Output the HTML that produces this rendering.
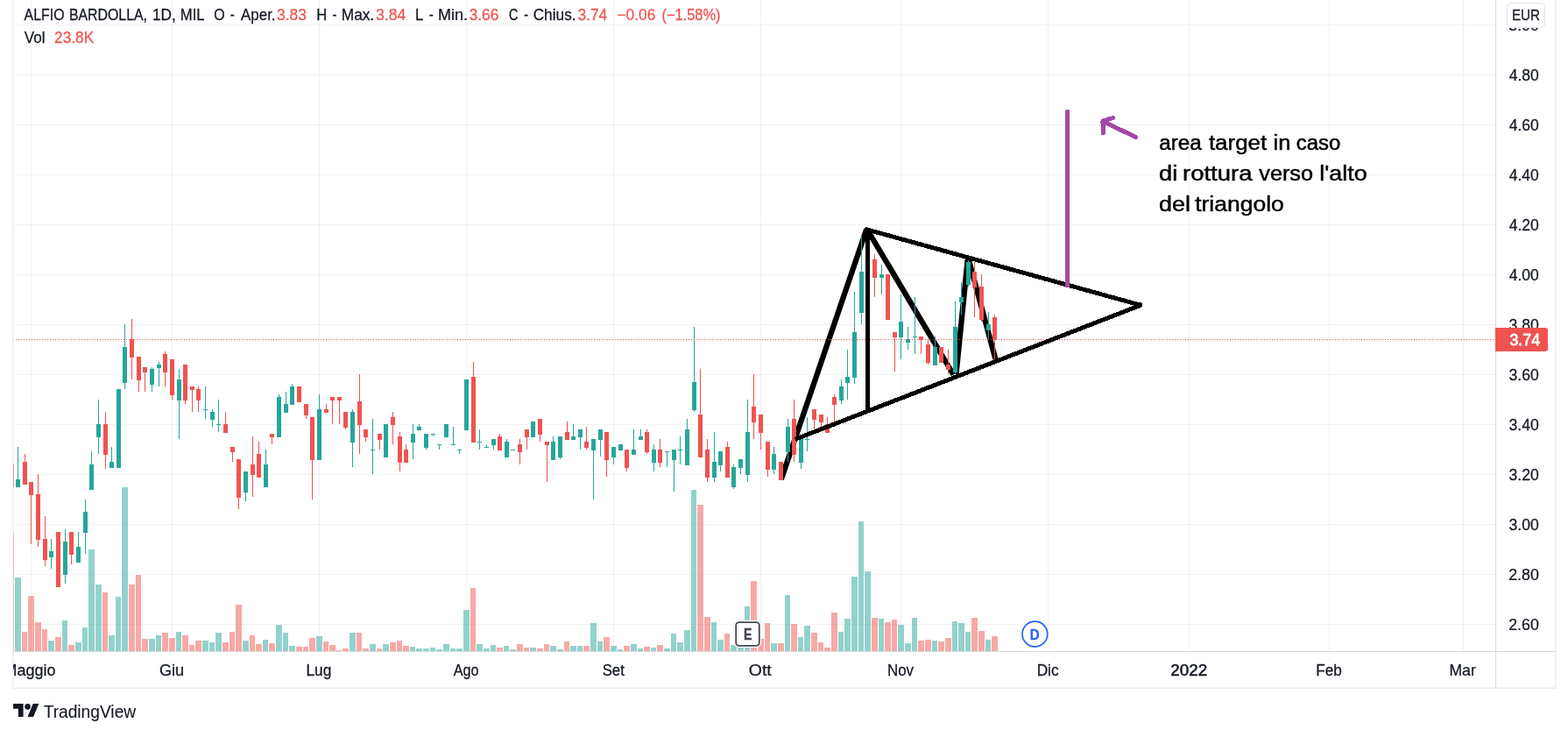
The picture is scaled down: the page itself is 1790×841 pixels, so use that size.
<!DOCTYPE html>
<html lang="it"><head><meta charset="utf-8"><title>ALFIO BARDOLLA, 1D, MIL</title>
<style>html,body{margin:0;padding:0;background:#fff;width:1790px;height:841px;overflow:hidden}svg{display:block;position:absolute;left:0;top:0}text{font-family:"Liberation Sans", sans-serif;white-space:pre}</style></head><body>
<svg width="1790" height="841" viewBox="0 0 1790 841">
<rect width="1790" height="841" fill="#fff"/>
<defs><clipPath id="pane"><rect x="15" y="0" width="1692" height="743"/></clipPath><clipPath id="tclip"><rect x="15" y="744" width="1692" height="41"/></clipPath><clipPath id="pclip"><rect x="1708" y="32" width="67" height="711"/></clipPath></defs>
<g shape-rendering="crispEdges" fill="rgba(30,40,35,0.06)">
<rect x="15" y="28" width="1692" height="1"/>
<rect x="15" y="85" width="1692" height="1"/>
<rect x="15" y="142" width="1692" height="1"/>
<rect x="15" y="199" width="1692" height="1"/>
<rect x="15" y="256" width="1692" height="1"/>
<rect x="15" y="313" width="1692" height="1"/>
<rect x="15" y="370" width="1692" height="1"/>
<rect x="15" y="427" width="1692" height="1"/>
<rect x="15" y="484" width="1692" height="1"/>
<rect x="15" y="541" width="1692" height="1"/>
<rect x="15" y="598" width="1692" height="1"/>
<rect x="15" y="655" width="1692" height="1"/>
<rect x="15" y="712" width="1692" height="1"/>
<rect x="35" y="0" width="1" height="743"/>
<rect x="196" y="0" width="1" height="743"/>
<rect x="364" y="0" width="1" height="743"/>
<rect x="532" y="0" width="1" height="743"/>
<rect x="700" y="0" width="1" height="743"/>
<rect x="868" y="0" width="1" height="743"/>
<rect x="1028" y="0" width="1" height="743"/>
<rect x="1196" y="0" width="1" height="743"/>
<rect x="1357" y="0" width="1" height="743"/>
<rect x="1517" y="0" width="1" height="743"/>
<rect x="1670" y="0" width="1" height="743"/>
</g>
<g clip-path="url(#pane)" shape-rendering="crispEdges">
<rect x="10" y="608" width="6" height="135" fill="#ef5350" fill-opacity=".5"/>
<rect x="17" y="659" width="7" height="84" fill="#26a69a" fill-opacity=".5"/>
<rect x="25" y="721" width="6" height="22" fill="#ef5350" fill-opacity=".5"/>
<rect x="32" y="680" width="7" height="63" fill="#ef5350" fill-opacity=".5"/>
<rect x="40" y="710" width="7" height="33" fill="#ef5350" fill-opacity=".5"/>
<rect x="48" y="718" width="6" height="25" fill="#ef5350" fill-opacity=".5"/>
<rect x="55" y="731" width="7" height="12" fill="#26a69a" fill-opacity=".5"/>
<rect x="63" y="727" width="7" height="16" fill="#ef5350" fill-opacity=".5"/>
<rect x="71" y="708" width="6" height="35" fill="#26a69a" fill-opacity=".5"/>
<rect x="78" y="736" width="7" height="7" fill="#ef5350" fill-opacity=".5"/>
<rect x="86" y="733" width="7" height="10" fill="#26a69a" fill-opacity=".5"/>
<rect x="94" y="716" width="6" height="27" fill="#26a69a" fill-opacity=".5"/>
<rect x="101" y="627" width="7" height="116" fill="#26a69a" fill-opacity=".5"/>
<rect x="109" y="667" width="7" height="76" fill="#26a69a" fill-opacity=".5"/>
<rect x="117" y="676" width="6" height="67" fill="#ef5350" fill-opacity=".5"/>
<rect x="124" y="725" width="7" height="18" fill="#26a69a" fill-opacity=".5"/>
<rect x="132" y="681" width="6" height="62" fill="#26a69a" fill-opacity=".5"/>
<rect x="139" y="556" width="7" height="187" fill="#26a69a" fill-opacity=".5"/>
<rect x="147" y="667" width="7" height="76" fill="#ef5350" fill-opacity=".5"/>
<rect x="155" y="656" width="6" height="87" fill="#ef5350" fill-opacity=".5"/>
<rect x="162" y="729" width="7" height="14" fill="#ef5350" fill-opacity=".5"/>
<rect x="170" y="729" width="7" height="14" fill="#26a69a" fill-opacity=".5"/>
<rect x="178" y="725" width="6" height="18" fill="#26a69a" fill-opacity=".5"/>
<rect x="185" y="722" width="7" height="21" fill="#ef5350" fill-opacity=".5"/>
<rect x="193" y="728" width="7" height="15" fill="#ef5350" fill-opacity=".5"/>
<rect x="201" y="721" width="6" height="22" fill="#26a69a" fill-opacity=".5"/>
<rect x="208" y="725" width="7" height="18" fill="#ef5350" fill-opacity=".5"/>
<rect x="216" y="736" width="6" height="7" fill="#ef5350" fill-opacity=".5"/>
<rect x="223" y="731" width="7" height="12" fill="#ef5350" fill-opacity=".5"/>
<rect x="231" y="731" width="7" height="12" fill="#26a69a" fill-opacity=".5"/>
<rect x="239" y="733" width="6" height="10" fill="#26a69a" fill-opacity=".5"/>
<rect x="246" y="722" width="7" height="21" fill="#26a69a" fill-opacity=".5"/>
<rect x="254" y="733" width="7" height="10" fill="#ef5350" fill-opacity=".5"/>
<rect x="262" y="721" width="6" height="22" fill="#ef5350" fill-opacity=".5"/>
<rect x="269" y="690" width="7" height="53" fill="#ef5350" fill-opacity=".5"/>
<rect x="277" y="731" width="7" height="12" fill="#26a69a" fill-opacity=".5"/>
<rect x="285" y="725" width="6" height="18" fill="#ef5350" fill-opacity=".5"/>
<rect x="292" y="735" width="7" height="8" fill="#ef5350" fill-opacity=".5"/>
<rect x="300" y="730" width="6" height="13" fill="#26a69a" fill-opacity=".5"/>
<rect x="307" y="734" width="7" height="9" fill="#ef5350" fill-opacity=".5"/>
<rect x="315" y="713" width="7" height="30" fill="#26a69a" fill-opacity=".5"/>
<rect x="323" y="722" width="6" height="21" fill="#26a69a" fill-opacity=".5"/>
<rect x="330" y="737" width="7" height="6" fill="#26a69a" fill-opacity=".5"/>
<rect x="338" y="738" width="7" height="5" fill="#ef5350" fill-opacity=".5"/>
<rect x="346" y="738" width="6" height="5" fill="#ef5350" fill-opacity=".5"/>
<rect x="353" y="728" width="7" height="15" fill="#ef5350" fill-opacity=".5"/>
<rect x="361" y="726" width="7" height="17" fill="#26a69a" fill-opacity=".5"/>
<rect x="369" y="732" width="6" height="11" fill="#ef5350" fill-opacity=".5"/>
<rect x="376" y="736" width="7" height="7" fill="#ef5350" fill-opacity=".5"/>
<rect x="384" y="742" width="6" height="1" fill="#ef5350" fill-opacity=".5"/>
<rect x="391" y="740" width="7" height="3" fill="#ef5350" fill-opacity=".5"/>
<rect x="399" y="722" width="7" height="21" fill="#26a69a" fill-opacity=".5"/>
<rect x="407" y="722" width="6" height="21" fill="#ef5350" fill-opacity=".5"/>
<rect x="414" y="740" width="7" height="3" fill="#ef5350" fill-opacity=".5"/>
<rect x="422" y="735" width="7" height="8" fill="#26a69a" fill-opacity=".5"/>
<rect x="430" y="740" width="6" height="3" fill="#ef5350" fill-opacity=".5"/>
<rect x="437" y="735" width="7" height="8" fill="#26a69a" fill-opacity=".5"/>
<rect x="445" y="733" width="7" height="10" fill="#ef5350" fill-opacity=".5"/>
<rect x="453" y="731" width="6" height="12" fill="#ef5350" fill-opacity=".5"/>
<rect x="460" y="737" width="7" height="6" fill="#ef5350" fill-opacity=".5"/>
<rect x="468" y="738" width="6" height="5" fill="#26a69a" fill-opacity=".5"/>
<rect x="475" y="740" width="7" height="3" fill="#26a69a" fill-opacity=".5"/>
<rect x="483" y="740" width="7" height="3" fill="#26a69a" fill-opacity=".5"/>
<rect x="491" y="739" width="6" height="4" fill="#26a69a" fill-opacity=".5"/>
<rect x="498" y="741" width="7" height="2" fill="#26a69a" fill-opacity=".5"/>
<rect x="506" y="735" width="7" height="8" fill="#26a69a" fill-opacity=".5"/>
<rect x="514" y="740" width="6" height="3" fill="#26a69a" fill-opacity=".5"/>
<rect x="521" y="740" width="7" height="3" fill="#26a69a" fill-opacity=".5"/>
<rect x="529" y="696" width="7" height="47" fill="#26a69a" fill-opacity=".5"/>
<rect x="537" y="671" width="6" height="72" fill="#ef5350" fill-opacity=".5"/>
<rect x="544" y="735" width="7" height="8" fill="#26a69a" fill-opacity=".5"/>
<rect x="552" y="740" width="7" height="3" fill="#26a69a" fill-opacity=".5"/>
<rect x="560" y="736" width="6" height="7" fill="#26a69a" fill-opacity=".5"/>
<rect x="567" y="739" width="7" height="4" fill="#ef5350" fill-opacity=".5"/>
<rect x="575" y="737" width="6" height="6" fill="#26a69a" fill-opacity=".5"/>
<rect x="582" y="741" width="7" height="2" fill="#26a69a" fill-opacity=".5"/>
<rect x="590" y="735" width="7" height="8" fill="#ef5350" fill-opacity=".5"/>
<rect x="598" y="739" width="6" height="4" fill="#ef5350" fill-opacity=".5"/>
<rect x="605" y="739" width="7" height="4" fill="#26a69a" fill-opacity=".5"/>
<rect x="613" y="740" width="7" height="3" fill="#ef5350" fill-opacity=".5"/>
<rect x="621" y="735" width="6" height="8" fill="#ef5350" fill-opacity=".5"/>
<rect x="628" y="737" width="7" height="6" fill="#26a69a" fill-opacity=".5"/>
<rect x="636" y="741" width="7" height="2" fill="#26a69a" fill-opacity=".5"/>
<rect x="644" y="732" width="6" height="11" fill="#ef5350" fill-opacity=".5"/>
<rect x="651" y="737" width="7" height="6" fill="#26a69a" fill-opacity=".5"/>
<rect x="659" y="737" width="6" height="6" fill="#26a69a" fill-opacity=".5"/>
<rect x="666" y="737" width="7" height="6" fill="#ef5350" fill-opacity=".5"/>
<rect x="674" y="711" width="7" height="32" fill="#26a69a" fill-opacity=".5"/>
<rect x="682" y="732" width="6" height="11" fill="#26a69a" fill-opacity=".5"/>
<rect x="689" y="727" width="7" height="16" fill="#ef5350" fill-opacity=".5"/>
<rect x="697" y="737" width="7" height="6" fill="#26a69a" fill-opacity=".5"/>
<rect x="705" y="741" width="6" height="2" fill="#26a69a" fill-opacity=".5"/>
<rect x="712" y="737" width="7" height="6" fill="#ef5350" fill-opacity=".5"/>
<rect x="720" y="735" width="7" height="8" fill="#26a69a" fill-opacity=".5"/>
<rect x="728" y="740" width="6" height="3" fill="#26a69a" fill-opacity=".5"/>
<rect x="735" y="738" width="7" height="5" fill="#ef5350" fill-opacity=".5"/>
<rect x="743" y="739" width="6" height="4" fill="#26a69a" fill-opacity=".5"/>
<rect x="750" y="736" width="7" height="7" fill="#ef5350" fill-opacity=".5"/>
<rect x="758" y="740" width="7" height="3" fill="#26a69a" fill-opacity=".5"/>
<rect x="766" y="723" width="6" height="20" fill="#26a69a" fill-opacity=".5"/>
<rect x="773" y="733" width="7" height="10" fill="#26a69a" fill-opacity=".5"/>
<rect x="781" y="719" width="7" height="24" fill="#26a69a" fill-opacity=".5"/>
<rect x="789" y="559" width="6" height="184" fill="#26a69a" fill-opacity=".5"/>
<rect x="796" y="576" width="7" height="167" fill="#ef5350" fill-opacity=".5"/>
<rect x="804" y="704" width="7" height="39" fill="#ef5350" fill-opacity=".5"/>
<rect x="812" y="710" width="6" height="33" fill="#26a69a" fill-opacity=".5"/>
<rect x="819" y="730" width="7" height="13" fill="#26a69a" fill-opacity=".5"/>
<rect x="827" y="723" width="6" height="20" fill="#ef5350" fill-opacity=".5"/>
<rect x="834" y="736" width="7" height="7" fill="#26a69a" fill-opacity=".5"/>
<rect x="842" y="738" width="7" height="5" fill="#26a69a" fill-opacity=".5"/>
<rect x="850" y="692" width="6" height="51" fill="#26a69a" fill-opacity=".5"/>
<rect x="857" y="663" width="7" height="80" fill="#ef5350" fill-opacity=".5"/>
<rect x="865" y="729" width="7" height="14" fill="#ef5350" fill-opacity=".5"/>
<rect x="873" y="711" width="6" height="32" fill="#ef5350" fill-opacity=".5"/>
<rect x="880" y="734" width="7" height="9" fill="#26a69a" fill-opacity=".5"/>
<rect x="888" y="734" width="7" height="9" fill="#ef5350" fill-opacity=".5"/>
<rect x="896" y="679" width="6" height="64" fill="#26a69a" fill-opacity=".5"/>
<rect x="903" y="712" width="7" height="31" fill="#ef5350" fill-opacity=".5"/>
<rect x="911" y="727" width="6" height="16" fill="#26a69a" fill-opacity=".5"/>
<rect x="918" y="714" width="7" height="29" fill="#26a69a" fill-opacity=".5"/>
<rect x="926" y="722" width="7" height="21" fill="#ef5350" fill-opacity=".5"/>
<rect x="934" y="733" width="6" height="10" fill="#ef5350" fill-opacity=".5"/>
<rect x="941" y="739" width="7" height="4" fill="#ef5350" fill-opacity=".5"/>
<rect x="949" y="699" width="7" height="44" fill="#ef5350" fill-opacity=".5"/>
<rect x="957" y="721" width="6" height="22" fill="#26a69a" fill-opacity=".5"/>
<rect x="964" y="706" width="7" height="37" fill="#26a69a" fill-opacity=".5"/>
<rect x="972" y="658" width="7" height="85" fill="#26a69a" fill-opacity=".5"/>
<rect x="980" y="595" width="6" height="148" fill="#26a69a" fill-opacity=".5"/>
<rect x="987" y="652" width="7" height="91" fill="#26a69a" fill-opacity=".5"/>
<rect x="995" y="705" width="7" height="38" fill="#ef5350" fill-opacity=".5"/>
<rect x="1003" y="706" width="6" height="37" fill="#26a69a" fill-opacity=".5"/>
<rect x="1010" y="710" width="7" height="33" fill="#ef5350" fill-opacity=".5"/>
<rect x="1018" y="707" width="6" height="36" fill="#ef5350" fill-opacity=".5"/>
<rect x="1025" y="713" width="7" height="30" fill="#26a69a" fill-opacity=".5"/>
<rect x="1033" y="734" width="7" height="9" fill="#26a69a" fill-opacity=".5"/>
<rect x="1041" y="705" width="6" height="38" fill="#26a69a" fill-opacity=".5"/>
<rect x="1048" y="731" width="7" height="12" fill="#ef5350" fill-opacity=".5"/>
<rect x="1056" y="730" width="7" height="13" fill="#ef5350" fill-opacity=".5"/>
<rect x="1064" y="731" width="6" height="12" fill="#26a69a" fill-opacity=".5"/>
<rect x="1071" y="732" width="7" height="11" fill="#ef5350" fill-opacity=".5"/>
<rect x="1079" y="728" width="7" height="15" fill="#ef5350" fill-opacity=".5"/>
<rect x="1087" y="709" width="6" height="34" fill="#26a69a" fill-opacity=".5"/>
<rect x="1094" y="711" width="7" height="32" fill="#26a69a" fill-opacity=".5"/>
<rect x="1102" y="721" width="6" height="22" fill="#26a69a" fill-opacity=".5"/>
<rect x="1109" y="705" width="7" height="38" fill="#ef5350" fill-opacity=".5"/>
<rect x="1117" y="720" width="7" height="23" fill="#ef5350" fill-opacity=".5"/>
<rect x="1125" y="730" width="6" height="13" fill="#26a69a" fill-opacity=".5"/>
<rect x="1132" y="726" width="7" height="17" fill="#ef5350" fill-opacity=".5"/>
</g>
<g stroke="#000" stroke-width="6.3" stroke-linecap="butt" fill="none">
<line x1="891.8" y1="547.0" x2="989.1" y2="262.0"/>
<line x1="990.3" y1="262.5" x2="1088.4" y2="427.5"/>
<line x1="1091.5" y1="427.0" x2="1104.8" y2="295.0"/>
<line x1="1105.5" y1="295.0" x2="1136.5" y2="410.0"/>
</g>
<g clip-path="url(#pane)" shape-rendering="crispEdges">
<rect x="13" y="530" width="1" height="26" fill="#ef5350"/>
<rect x="11" y="530" width="5" height="26" fill="#ef5350"/>
<rect x="20" y="510" width="1" height="46" fill="#26a69a"/>
<rect x="18" y="547" width="5" height="9" fill="#26a69a"/>
<rect x="28" y="518" width="1" height="35" fill="#ef5350"/>
<rect x="26" y="527" width="5" height="26" fill="#ef5350"/>
<rect x="35" y="550" width="1" height="71" fill="#ef5350"/>
<rect x="33" y="550" width="5" height="15" fill="#ef5350"/>
<rect x="43" y="541" width="1" height="83" fill="#ef5350"/>
<rect x="41" y="564" width="5" height="52" fill="#ef5350"/>
<rect x="51" y="589" width="1" height="57" fill="#ef5350"/>
<rect x="49" y="615" width="5" height="24" fill="#ef5350"/>
<rect x="58" y="615" width="1" height="34" fill="#26a69a"/>
<rect x="56" y="629" width="5" height="7" fill="#26a69a"/>
<rect x="66" y="607" width="1" height="63" fill="#ef5350"/>
<rect x="64" y="607" width="5" height="63" fill="#ef5350"/>
<rect x="74" y="604" width="1" height="62" fill="#26a69a"/>
<rect x="72" y="618" width="5" height="38" fill="#26a69a"/>
<rect x="81" y="607" width="1" height="37" fill="#ef5350"/>
<rect x="79" y="607" width="5" height="26" fill="#ef5350"/>
<rect x="89" y="607" width="1" height="35" fill="#26a69a"/>
<rect x="87" y="624" width="5" height="18" fill="#26a69a"/>
<rect x="97" y="570" width="1" height="62" fill="#26a69a"/>
<rect x="95" y="584" width="5" height="24" fill="#26a69a"/>
<rect x="104" y="515" width="1" height="44" fill="#26a69a"/>
<rect x="102" y="530" width="5" height="29" fill="#26a69a"/>
<rect x="112" y="456" width="1" height="62" fill="#26a69a"/>
<rect x="110" y="484" width="5" height="15" fill="#26a69a"/>
<rect x="120" y="470" width="1" height="65" fill="#ef5350"/>
<rect x="118" y="484" width="5" height="35" fill="#ef5350"/>
<rect x="127" y="510" width="1" height="24" fill="#26a69a"/>
<rect x="125" y="527" width="5" height="7" fill="#26a69a"/>
<rect x="135" y="444" width="1" height="90" fill="#26a69a"/>
<rect x="133" y="444" width="5" height="90" fill="#26a69a"/>
<rect x="142" y="370" width="1" height="74" fill="#26a69a"/>
<rect x="140" y="396" width="5" height="41" fill="#26a69a"/>
<rect x="150" y="364" width="1" height="69" fill="#ef5350"/>
<rect x="148" y="387" width="5" height="21" fill="#ef5350"/>
<rect x="158" y="407" width="1" height="40" fill="#ef5350"/>
<rect x="156" y="407" width="5" height="27" fill="#ef5350"/>
<rect x="165" y="419" width="1" height="28" fill="#ef5350"/>
<rect x="163" y="419" width="5" height="6" fill="#ef5350"/>
<rect x="173" y="419" width="1" height="28" fill="#26a69a"/>
<rect x="171" y="421" width="5" height="18" fill="#26a69a"/>
<rect x="181" y="413" width="1" height="28" fill="#26a69a"/>
<rect x="179" y="416" width="5" height="4" fill="#26a69a"/>
<rect x="188" y="401" width="1" height="40" fill="#ef5350"/>
<rect x="186" y="404" width="5" height="21" fill="#ef5350"/>
<rect x="196" y="410" width="1" height="46" fill="#ef5350"/>
<rect x="194" y="410" width="5" height="41" fill="#ef5350"/>
<rect x="204" y="421" width="1" height="80" fill="#26a69a"/>
<rect x="202" y="433" width="5" height="24" fill="#26a69a"/>
<rect x="211" y="416" width="1" height="45" fill="#ef5350"/>
<rect x="209" y="416" width="5" height="41" fill="#ef5350"/>
<rect x="219" y="441" width="1" height="29" fill="#ef5350"/>
<rect x="217" y="441" width="5" height="4" fill="#ef5350"/>
<rect x="226" y="441" width="1" height="29" fill="#ef5350"/>
<rect x="224" y="444" width="5" height="13" fill="#ef5350"/>
<rect x="234" y="441" width="1" height="37" fill="#26a69a"/>
<rect x="232" y="467" width="5" height="1" fill="#26a69a"/>
<rect x="242" y="467" width="1" height="20" fill="#26a69a"/>
<rect x="240" y="470" width="5" height="9" fill="#26a69a"/>
<rect x="249" y="456" width="1" height="37" fill="#26a69a"/>
<rect x="247" y="484" width="5" height="1" fill="#26a69a"/>
<rect x="257" y="470" width="1" height="24" fill="#ef5350"/>
<rect x="255" y="484" width="5" height="10" fill="#ef5350"/>
<rect x="265" y="510" width="1" height="17" fill="#ef5350"/>
<rect x="263" y="510" width="5" height="6" fill="#ef5350"/>
<rect x="272" y="524" width="1" height="57" fill="#ef5350"/>
<rect x="270" y="524" width="5" height="44" fill="#ef5350"/>
<rect x="280" y="538" width="1" height="34" fill="#26a69a"/>
<rect x="278" y="538" width="5" height="24" fill="#26a69a"/>
<rect x="288" y="498" width="1" height="69" fill="#ef5350"/>
<rect x="286" y="530" width="5" height="12" fill="#ef5350"/>
<rect x="295" y="504" width="1" height="41" fill="#ef5350"/>
<rect x="293" y="518" width="5" height="27" fill="#ef5350"/>
<rect x="303" y="513" width="1" height="43" fill="#26a69a"/>
<rect x="301" y="530" width="5" height="26" fill="#26a69a"/>
<rect x="310" y="495" width="1" height="12" fill="#ef5350"/>
<rect x="308" y="495" width="5" height="4" fill="#ef5350"/>
<rect x="318" y="450" width="1" height="49" fill="#26a69a"/>
<rect x="316" y="453" width="5" height="46" fill="#26a69a"/>
<rect x="326" y="447" width="1" height="24" fill="#26a69a"/>
<rect x="324" y="461" width="5" height="10" fill="#26a69a"/>
<rect x="333" y="438" width="1" height="24" fill="#26a69a"/>
<rect x="331" y="441" width="5" height="21" fill="#26a69a"/>
<rect x="341" y="441" width="1" height="18" fill="#ef5350"/>
<rect x="339" y="441" width="5" height="18" fill="#ef5350"/>
<rect x="349" y="461" width="1" height="17" fill="#ef5350"/>
<rect x="347" y="461" width="5" height="13" fill="#ef5350"/>
<rect x="356" y="476" width="1" height="94" fill="#ef5350"/>
<rect x="354" y="476" width="5" height="49" fill="#ef5350"/>
<rect x="364" y="450" width="1" height="75" fill="#26a69a"/>
<rect x="362" y="467" width="5" height="58" fill="#26a69a"/>
<rect x="372" y="461" width="1" height="10" fill="#ef5350"/>
<rect x="370" y="467" width="5" height="4" fill="#ef5350"/>
<rect x="379" y="453" width="1" height="31" fill="#ef5350"/>
<rect x="377" y="453" width="5" height="4" fill="#ef5350"/>
<rect x="387" y="453" width="1" height="31" fill="#ef5350"/>
<rect x="385" y="453" width="5" height="4" fill="#ef5350"/>
<rect x="394" y="470" width="1" height="20" fill="#ef5350"/>
<rect x="392" y="470" width="5" height="18" fill="#ef5350"/>
<rect x="402" y="467" width="1" height="66" fill="#26a69a"/>
<rect x="400" y="470" width="5" height="35" fill="#26a69a"/>
<rect x="410" y="427" width="1" height="91" fill="#ef5350"/>
<rect x="408" y="458" width="5" height="27" fill="#ef5350"/>
<rect x="417" y="490" width="1" height="14" fill="#ef5350"/>
<rect x="415" y="490" width="5" height="9" fill="#ef5350"/>
<rect x="425" y="478" width="1" height="63" fill="#26a69a"/>
<rect x="423" y="513" width="5" height="1" fill="#26a69a"/>
<rect x="433" y="495" width="1" height="18" fill="#ef5350"/>
<rect x="431" y="495" width="5" height="7" fill="#ef5350"/>
<rect x="440" y="484" width="1" height="38" fill="#26a69a"/>
<rect x="438" y="484" width="5" height="38" fill="#26a69a"/>
<rect x="448" y="470" width="1" height="37" fill="#ef5350"/>
<rect x="446" y="476" width="5" height="9" fill="#ef5350"/>
<rect x="456" y="493" width="1" height="45" fill="#ef5350"/>
<rect x="454" y="498" width="5" height="30" fill="#ef5350"/>
<rect x="463" y="507" width="1" height="21" fill="#ef5350"/>
<rect x="461" y="513" width="5" height="15" fill="#ef5350"/>
<rect x="471" y="484" width="1" height="40" fill="#26a69a"/>
<rect x="469" y="495" width="5" height="10" fill="#26a69a"/>
<rect x="478" y="484" width="1" height="7" fill="#26a69a"/>
<rect x="476" y="487" width="5" height="4" fill="#26a69a"/>
<rect x="486" y="495" width="1" height="18" fill="#26a69a"/>
<rect x="484" y="495" width="5" height="16" fill="#26a69a"/>
<rect x="494" y="495" width="1" height="3" fill="#26a69a"/>
<rect x="492" y="495" width="5" height="1" fill="#26a69a"/>
<rect x="501" y="507" width="1" height="6" fill="#26a69a"/>
<rect x="499" y="507" width="5" height="1" fill="#26a69a"/>
<rect x="509" y="484" width="1" height="15" fill="#26a69a"/>
<rect x="507" y="484" width="5" height="15" fill="#26a69a"/>
<rect x="517" y="487" width="1" height="21" fill="#26a69a"/>
<rect x="515" y="507" width="5" height="1" fill="#26a69a"/>
<rect x="524" y="513" width="1" height="5" fill="#26a69a"/>
<rect x="522" y="513" width="5" height="1" fill="#26a69a"/>
<rect x="532" y="433" width="1" height="58" fill="#26a69a"/>
<rect x="530" y="433" width="5" height="58" fill="#26a69a"/>
<rect x="540" y="413" width="1" height="92" fill="#ef5350"/>
<rect x="538" y="430" width="5" height="75" fill="#ef5350"/>
<rect x="547" y="490" width="1" height="23" fill="#26a69a"/>
<rect x="545" y="504" width="5" height="1" fill="#26a69a"/>
<rect x="555" y="507" width="1" height="4" fill="#26a69a"/>
<rect x="553" y="510" width="5" height="1" fill="#26a69a"/>
<rect x="563" y="501" width="1" height="12" fill="#26a69a"/>
<rect x="561" y="501" width="5" height="7" fill="#26a69a"/>
<rect x="570" y="495" width="1" height="19" fill="#ef5350"/>
<rect x="568" y="498" width="5" height="16" fill="#ef5350"/>
<rect x="578" y="501" width="1" height="21" fill="#26a69a"/>
<rect x="576" y="504" width="5" height="18" fill="#26a69a"/>
<rect x="585" y="513" width="1" height="1" fill="#26a69a"/>
<rect x="583" y="513" width="5" height="1" fill="#26a69a"/>
<rect x="593" y="501" width="1" height="29" fill="#ef5350"/>
<rect x="591" y="507" width="5" height="9" fill="#ef5350"/>
<rect x="601" y="490" width="1" height="23" fill="#ef5350"/>
<rect x="599" y="490" width="5" height="9" fill="#ef5350"/>
<rect x="608" y="481" width="1" height="18" fill="#26a69a"/>
<rect x="606" y="481" width="5" height="18" fill="#26a69a"/>
<rect x="616" y="478" width="1" height="26" fill="#ef5350"/>
<rect x="614" y="478" width="5" height="18" fill="#ef5350"/>
<rect x="624" y="504" width="1" height="46" fill="#ef5350"/>
<rect x="622" y="504" width="5" height="4" fill="#ef5350"/>
<rect x="631" y="498" width="1" height="27" fill="#26a69a"/>
<rect x="629" y="504" width="5" height="21" fill="#26a69a"/>
<rect x="639" y="498" width="1" height="26" fill="#26a69a"/>
<rect x="637" y="498" width="5" height="24" fill="#26a69a"/>
<rect x="647" y="481" width="1" height="21" fill="#ef5350"/>
<rect x="645" y="493" width="5" height="9" fill="#ef5350"/>
<rect x="654" y="484" width="1" height="18" fill="#26a69a"/>
<rect x="652" y="498" width="5" height="4" fill="#26a69a"/>
<rect x="662" y="490" width="1" height="23" fill="#26a69a"/>
<rect x="660" y="490" width="5" height="9" fill="#26a69a"/>
<rect x="669" y="487" width="1" height="26" fill="#ef5350"/>
<rect x="667" y="504" width="5" height="7" fill="#ef5350"/>
<rect x="677" y="501" width="1" height="69" fill="#26a69a"/>
<rect x="675" y="501" width="5" height="13" fill="#26a69a"/>
<rect x="685" y="490" width="1" height="31" fill="#26a69a"/>
<rect x="683" y="490" width="5" height="12" fill="#26a69a"/>
<rect x="692" y="493" width="1" height="51" fill="#ef5350"/>
<rect x="690" y="493" width="5" height="32" fill="#ef5350"/>
<rect x="700" y="510" width="1" height="20" fill="#26a69a"/>
<rect x="698" y="510" width="5" height="12" fill="#26a69a"/>
<rect x="708" y="507" width="1" height="7" fill="#26a69a"/>
<rect x="706" y="507" width="5" height="7" fill="#26a69a"/>
<rect x="715" y="513" width="1" height="25" fill="#ef5350"/>
<rect x="713" y="513" width="5" height="21" fill="#ef5350"/>
<rect x="723" y="490" width="1" height="29" fill="#26a69a"/>
<rect x="721" y="513" width="5" height="6" fill="#26a69a"/>
<rect x="731" y="490" width="1" height="12" fill="#26a69a"/>
<rect x="729" y="498" width="5" height="4" fill="#26a69a"/>
<rect x="738" y="490" width="1" height="28" fill="#ef5350"/>
<rect x="736" y="493" width="5" height="23" fill="#ef5350"/>
<rect x="746" y="507" width="1" height="31" fill="#26a69a"/>
<rect x="744" y="513" width="5" height="15" fill="#26a69a"/>
<rect x="753" y="501" width="1" height="32" fill="#ef5350"/>
<rect x="751" y="513" width="5" height="15" fill="#ef5350"/>
<rect x="761" y="515" width="1" height="18" fill="#26a69a"/>
<rect x="759" y="515" width="5" height="1" fill="#26a69a"/>
<rect x="769" y="513" width="1" height="48" fill="#26a69a"/>
<rect x="767" y="513" width="5" height="12" fill="#26a69a"/>
<rect x="776" y="498" width="1" height="32" fill="#26a69a"/>
<rect x="774" y="513" width="5" height="1" fill="#26a69a"/>
<rect x="784" y="478" width="1" height="53" fill="#26a69a"/>
<rect x="782" y="490" width="5" height="41" fill="#26a69a"/>
<rect x="792" y="373" width="1" height="97" fill="#26a69a"/>
<rect x="790" y="436" width="5" height="32" fill="#26a69a"/>
<rect x="799" y="421" width="1" height="101" fill="#ef5350"/>
<rect x="797" y="473" width="5" height="49" fill="#ef5350"/>
<rect x="807" y="501" width="1" height="49" fill="#ef5350"/>
<rect x="805" y="513" width="5" height="32" fill="#ef5350"/>
<rect x="815" y="493" width="1" height="57" fill="#26a69a"/>
<rect x="813" y="527" width="5" height="18" fill="#26a69a"/>
<rect x="822" y="515" width="1" height="23" fill="#26a69a"/>
<rect x="820" y="515" width="5" height="16" fill="#26a69a"/>
<rect x="830" y="504" width="1" height="41" fill="#ef5350"/>
<rect x="828" y="510" width="5" height="35" fill="#ef5350"/>
<rect x="837" y="530" width="1" height="28" fill="#26a69a"/>
<rect x="835" y="533" width="5" height="23" fill="#26a69a"/>
<rect x="845" y="524" width="1" height="17" fill="#26a69a"/>
<rect x="843" y="524" width="5" height="10" fill="#26a69a"/>
<rect x="853" y="456" width="1" height="94" fill="#26a69a"/>
<rect x="851" y="493" width="5" height="49" fill="#26a69a"/>
<rect x="860" y="427" width="1" height="74" fill="#ef5350"/>
<rect x="858" y="464" width="5" height="18" fill="#ef5350"/>
<rect x="868" y="473" width="1" height="40" fill="#ef5350"/>
<rect x="866" y="473" width="5" height="21" fill="#ef5350"/>
<rect x="876" y="504" width="1" height="40" fill="#ef5350"/>
<rect x="874" y="504" width="5" height="32" fill="#ef5350"/>
<rect x="883" y="510" width="1" height="31" fill="#26a69a"/>
<rect x="881" y="518" width="5" height="18" fill="#26a69a"/>
<rect x="891" y="527" width="1" height="21" fill="#ef5350"/>
<rect x="889" y="527" width="5" height="21" fill="#ef5350"/>
<rect x="899" y="478" width="1" height="49" fill="#26a69a"/>
<rect x="897" y="487" width="5" height="29" fill="#26a69a"/>
<rect x="906" y="456" width="1" height="71" fill="#ef5350"/>
<rect x="904" y="478" width="5" height="41" fill="#ef5350"/>
<rect x="914" y="500" width="1" height="35" fill="#26a69a"/>
<rect x="912" y="500" width="5" height="28" fill="#26a69a"/>
<rect x="921" y="476" width="1" height="39" fill="#26a69a"/>
<rect x="919" y="501" width="5" height="1" fill="#26a69a"/>
<rect x="929" y="467" width="1" height="23" fill="#ef5350"/>
<rect x="927" y="467" width="5" height="12" fill="#ef5350"/>
<rect x="937" y="473" width="1" height="15" fill="#ef5350"/>
<rect x="935" y="473" width="5" height="9" fill="#ef5350"/>
<rect x="944" y="476" width="1" height="18" fill="#ef5350"/>
<rect x="942" y="484" width="5" height="10" fill="#ef5350"/>
<rect x="952" y="450" width="1" height="31" fill="#ef5350"/>
<rect x="950" y="453" width="5" height="9" fill="#ef5350"/>
<rect x="960" y="433" width="1" height="28" fill="#26a69a"/>
<rect x="958" y="441" width="5" height="16" fill="#26a69a"/>
<rect x="967" y="399" width="1" height="57" fill="#26a69a"/>
<rect x="965" y="430" width="5" height="7" fill="#26a69a"/>
<rect x="975" y="333" width="1" height="105" fill="#26a69a"/>
<rect x="973" y="379" width="5" height="52" fill="#26a69a"/>
<rect x="983" y="270" width="1" height="100" fill="#26a69a"/>
<rect x="981" y="310" width="5" height="47" fill="#26a69a"/>
<rect x="990" y="265" width="1" height="55" fill="#26a69a"/>
<rect x="988" y="290" width="5" height="22" fill="#26a69a"/>
<rect x="998" y="290" width="1" height="49" fill="#ef5350"/>
<rect x="996" y="296" width="5" height="21" fill="#ef5350"/>
<rect x="1006" y="302" width="1" height="34" fill="#26a69a"/>
<rect x="1004" y="313" width="5" height="4" fill="#26a69a"/>
<rect x="1013" y="313" width="1" height="52" fill="#ef5350"/>
<rect x="1011" y="313" width="5" height="52" fill="#ef5350"/>
<rect x="1021" y="379" width="1" height="45" fill="#ef5350"/>
<rect x="1019" y="379" width="5" height="6" fill="#ef5350"/>
<rect x="1028" y="336" width="1" height="74" fill="#26a69a"/>
<rect x="1026" y="367" width="5" height="18" fill="#26a69a"/>
<rect x="1036" y="373" width="1" height="26" fill="#26a69a"/>
<rect x="1034" y="387" width="5" height="4" fill="#26a69a"/>
<rect x="1044" y="339" width="1" height="65" fill="#26a69a"/>
<rect x="1042" y="384" width="5" height="1" fill="#26a69a"/>
<rect x="1051" y="384" width="1" height="20" fill="#ef5350"/>
<rect x="1049" y="384" width="5" height="4" fill="#ef5350"/>
<rect x="1059" y="387" width="1" height="29" fill="#ef5350"/>
<rect x="1057" y="393" width="5" height="21" fill="#ef5350"/>
<rect x="1067" y="384" width="1" height="33" fill="#26a69a"/>
<rect x="1065" y="396" width="5" height="21" fill="#26a69a"/>
<rect x="1074" y="396" width="1" height="18" fill="#ef5350"/>
<rect x="1072" y="396" width="5" height="18" fill="#ef5350"/>
<rect x="1082" y="399" width="1" height="28" fill="#ef5350"/>
<rect x="1080" y="416" width="5" height="6" fill="#ef5350"/>
<rect x="1090" y="344" width="1" height="83" fill="#26a69a"/>
<rect x="1088" y="373" width="5" height="52" fill="#26a69a"/>
<rect x="1097" y="322" width="1" height="37" fill="#26a69a"/>
<rect x="1095" y="339" width="5" height="6" fill="#26a69a"/>
<rect x="1105" y="296" width="1" height="31" fill="#26a69a"/>
<rect x="1103" y="299" width="5" height="26" fill="#26a69a"/>
<rect x="1112" y="299" width="1" height="63" fill="#ef5350"/>
<rect x="1110" y="310" width="5" height="18" fill="#ef5350"/>
<rect x="1120" y="313" width="1" height="54" fill="#ef5350"/>
<rect x="1118" y="327" width="5" height="38" fill="#ef5350"/>
<rect x="1128" y="356" width="1" height="32" fill="#26a69a"/>
<rect x="1126" y="370" width="5" height="7" fill="#26a69a"/>
<rect x="1135" y="359" width="1" height="51" fill="#ef5350"/>
<rect x="1133" y="362" width="5" height="26" fill="#ef5350"/>
</g>
<line x1="15" y1="387.5" x2="1707" y2="387.5" stroke="#ef5350" stroke-width="1" stroke-dasharray="1 2" shape-rendering="crispEdges"/>
<g stroke="#000" stroke-width="5" stroke-linecap="square" fill="none" shape-rendering="crispEdges">
<line x1="989.5" y1="261.9" x2="1301.3" y2="348.0"/>
<line x1="910.0" y1="500.4" x2="1301.3" y2="348.6"/>
<line x1="990.5" y1="264.0" x2="990.5" y2="466.5"/>
</g>
<g stroke="#a349a4" stroke-width="5" stroke-linecap="round" stroke-linejoin="round" fill="none" shape-rendering="crispEdges">
<line x1="1218.6" y1="127.5" x2="1218.6" y2="326"/>
<line x1="1296.6" y1="156.5" x2="1259.2" y2="138.6"/>
<polyline points="1270.6,134.5 1258.9,138.2 1259.4,151.8"/>
</g>
<g><text transform="translate(1323.13 170.90) scale(0.9797 1)" font-size="24.80" font-weight="400" fill="#000" stroke="#000" stroke-width="0.51" stroke-linejoin="round">area</text> <text transform="translate(1379.89 170.90) scale(1.0471 1)" font-size="24.80" font-weight="400" fill="#000" stroke="#000" stroke-width="0.48" stroke-linejoin="round">target</text> <text transform="translate(1453.52 170.90) scale(1.0291 1)" font-size="24.80" font-weight="400" fill="#000" stroke="#000" stroke-width="0.49" stroke-linejoin="round">in</text> <text transform="translate(1479.79 170.90) scale(0.9664 1)" font-size="24.80" font-weight="400" fill="#000" stroke="#000" stroke-width="0.52" stroke-linejoin="round">caso</text> <text transform="translate(1323.01 206.00) scale(1.1003 1)" font-size="24.80" font-weight="400" fill="#000" stroke="#000" stroke-width="0.45" stroke-linejoin="round">di</text> <text transform="translate(1350.00 206.00) scale(1.1098 1)" font-size="24.80" font-weight="400" fill="#000" stroke="#000" stroke-width="0.45" stroke-linejoin="round">rottura</text> <text transform="translate(1437.25 206.00) scale(1.0193 1)" font-size="24.80" font-weight="400" fill="#000" stroke="#000" stroke-width="0.49" stroke-linejoin="round">verso</text> <text transform="translate(1506.23 206.00) scale(1.0868 1)" font-size="24.80" font-weight="400" fill="#000" stroke="#000" stroke-width="0.46" stroke-linejoin="round">l'alto</text> <text transform="translate(1323.02 241.10) scale(1.0847 1)" font-size="24.80" font-weight="400" fill="#000" stroke="#000" stroke-width="0.46" stroke-linejoin="round">del</text> <text transform="translate(1364.19 241.10) scale(1.0682 1)" font-size="24.80" font-weight="400" fill="#000" stroke="#000" stroke-width="0.47" stroke-linejoin="round">triangolo</text></g>
<rect x="837.9" y="707.8" width="31.2" height="31.3" rx="6" fill="#fff"/>
<rect x="840.2" y="710.1" width="26.6" height="26.7" rx="3.6" fill="#fff" stroke="#434651" stroke-width="1.8"/>
<text transform="translate(848.97 730.00) scale(0.7856 1)" font-size="18.20" font-weight="700" fill="#434651" stroke="#434651" stroke-width="0.32" stroke-linejoin="round">E</text>
<circle cx="1181.4" cy="723.5" r="14.4" fill="#fff" stroke="#2962ff" stroke-width="1.7"/>
<text transform="translate(1175.82 729.80) scale(0.8917 1)" font-size="17.00" font-weight="700" fill="#2962ff" stroke="#2962ff" stroke-width="0.28" stroke-linejoin="round">D</text>
<g shape-rendering="crispEdges">
<rect x="15" y="743" width="1761" height="1" fill="#d9d9db"/>
<rect x="1707" y="0" width="1" height="785" fill="#d9d9db"/>
</g>
<rect x="14.3" y="-2" width="1.5" height="788" fill="#ebedf5"/>
<rect x="1775.2" y="-2" width="1.6" height="788" fill="#ebedf5"/>
<rect x="14.3" y="784.4" width="1762.5" height="1.6" fill="#ebedf5"/>
<g shape-rendering="crispEdges" opacity=".45"><rect x="15" y="530" width="1" height="26" fill="#ef5350"/><rect x="15" y="608" width="1" height="135" fill="#ef5350" fill-opacity=".5"/></g>
<g clip-path="url(#pclip)"><text transform="translate(1722.32 34.60) scale(0.9958 1)" font-size="17.80" font-weight="400" fill="#131722" stroke="#131722" stroke-width="0.25" stroke-linejoin="round">5.00</text></g>
<g><text transform="translate(1722.67 91.60) scale(0.9853 1)" font-size="17.80" font-weight="400" fill="#131722" stroke="#131722" stroke-width="0.25" stroke-linejoin="round">4.80</text> <text transform="translate(1722.67 148.60) scale(0.9853 1)" font-size="17.80" font-weight="400" fill="#131722" stroke="#131722" stroke-width="0.25" stroke-linejoin="round">4.60</text> <text transform="translate(1722.67 205.60) scale(0.9853 1)" font-size="17.80" font-weight="400" fill="#131722" stroke="#131722" stroke-width="0.25" stroke-linejoin="round">4.40</text> <text transform="translate(1722.67 262.60) scale(0.9853 1)" font-size="17.80" font-weight="400" fill="#131722" stroke="#131722" stroke-width="0.25" stroke-linejoin="round">4.20</text> <text transform="translate(1722.67 319.60) scale(0.9853 1)" font-size="17.80" font-weight="400" fill="#131722" stroke="#131722" stroke-width="0.25" stroke-linejoin="round">4.00</text> <text transform="translate(1722.50 376.60) scale(0.9905 1)" font-size="17.80" font-weight="400" fill="#131722" stroke="#131722" stroke-width="0.25" stroke-linejoin="round">3.80</text> <text transform="translate(1722.50 433.60) scale(0.9905 1)" font-size="17.80" font-weight="400" fill="#131722" stroke="#131722" stroke-width="0.25" stroke-linejoin="round">3.60</text> <text transform="translate(1722.50 490.60) scale(0.9905 1)" font-size="17.80" font-weight="400" fill="#131722" stroke="#131722" stroke-width="0.25" stroke-linejoin="round">3.40</text> <text transform="translate(1722.50 547.60) scale(0.9905 1)" font-size="17.80" font-weight="400" fill="#131722" stroke="#131722" stroke-width="0.25" stroke-linejoin="round">3.20</text> <text transform="translate(1722.50 604.60) scale(0.9905 1)" font-size="17.80" font-weight="400" fill="#131722" stroke="#131722" stroke-width="0.25" stroke-linejoin="round">3.00</text> <text transform="translate(1722.13 661.60) scale(1.0012 1)" font-size="17.80" font-weight="400" fill="#131722" stroke="#131722" stroke-width="0.25" stroke-linejoin="round">2.80</text> <text transform="translate(1722.13 718.60) scale(1.0012 1)" font-size="17.80" font-weight="400" fill="#131722" stroke="#131722" stroke-width="0.25" stroke-linejoin="round">2.60</text></g>
<path d="M1707 374h57a3 3 0 0 1 3 3v21a3 3 0 0 1 -3 3h-57z" fill="#ef5350"/>
<text transform="translate(1723.47 394.00) scale(0.9987 1)" font-size="17.80" font-weight="400" fill="#ffffff" stroke="#ffffff" stroke-width="0.80" stroke-linejoin="round">3.74</text>
<rect x="1720.5" y="3.5" width="43" height="28" rx="5" fill="#fff" stroke="#e0e3eb" stroke-width="1"/>
<text transform="translate(1725.91 23.20) scale(0.9273 1)" font-size="16.40" font-weight="400" fill="#131722" stroke="#131722" stroke-width="0.27" stroke-linejoin="round">EUR</text>
<g clip-path="url(#tclip)"><text transform="translate(4.56 771.00) scale(1.0084 1)" font-size="17.80" font-weight="400" fill="#131722" stroke="#131722" stroke-width="0.25" stroke-linejoin="round">Maggio</text></g>
<g><text transform="translate(182.02 771.00) scale(1.0163 1)" font-size="17.80" font-weight="400" fill="#131722" stroke="#131722" stroke-width="0.25" stroke-linejoin="round">Giu</text> <text transform="translate(349.44 771.00) scale(0.9734 1)" font-size="17.80" font-weight="400" fill="#131722" stroke="#131722" stroke-width="0.26" stroke-linejoin="round">Lug</text> <text transform="translate(517.73 771.00) scale(0.9137 1)" font-size="17.80" font-weight="400" fill="#131722" stroke="#131722" stroke-width="0.27" stroke-linejoin="round">Ago</text> <text transform="translate(687.65 771.00) scale(0.9426 1)" font-size="17.80" font-weight="400" fill="#131722" stroke="#131722" stroke-width="0.27" stroke-linejoin="round">Set</text> <text transform="translate(854.80 771.00) scale(1.0927 1)" font-size="17.80" font-weight="400" fill="#131722" stroke="#131722" stroke-width="0.23" stroke-linejoin="round">Ott</text> <text transform="translate(1012.98 771.00) scale(0.9477 1)" font-size="17.80" font-weight="400" fill="#131722" stroke="#131722" stroke-width="0.26" stroke-linejoin="round">Nov</text> <text transform="translate(1183.64 771.00) scale(0.9716 1)" font-size="17.80" font-weight="400" fill="#131722" stroke="#131722" stroke-width="0.26" stroke-linejoin="round">Dic</text> <text transform="translate(1336.23 771.00) scale(1.0597 1)" font-size="17.80" font-weight="400" fill="#131722" stroke="#131722" stroke-width="0.52" stroke-linejoin="round">2022</text> <text transform="translate(1502.30 771.00) scale(0.9649 1)" font-size="17.80" font-weight="400" fill="#131722" stroke="#131722" stroke-width="0.26" stroke-linejoin="round">Feb</text> <text transform="translate(1654.41 771.00) scale(0.9914 1)" font-size="17.80" font-weight="400" fill="#131722" stroke="#131722" stroke-width="0.25" stroke-linejoin="round">Mar</text></g>
<g><text transform="translate(27.62 22.90) scale(0.8976 1)" font-size="17.70" font-weight="400" fill="#131722" stroke="#131722" stroke-width="0.28" stroke-linejoin="round">ALFIO</text> <text transform="translate(78.95 22.90) scale(0.8969 1)" font-size="17.70" font-weight="400" fill="#131722" stroke="#131722" stroke-width="0.28" stroke-linejoin="round">BARDOLLA,</text> <text transform="translate(174.02 22.90) scale(0.9717 1)" font-size="17.70" font-weight="400" fill="#131722" stroke="#131722" stroke-width="0.26" stroke-linejoin="round">1D,</text> <text transform="translate(205.79 22.90) scale(0.9429 1)" font-size="17.70" font-weight="400" fill="#131722" stroke="#131722" stroke-width="0.27" stroke-linejoin="round">MIL</text> <text transform="translate(244.29 22.90) scale(0.8966 1)" font-size="17.70" font-weight="400" fill="#131722" stroke="#131722" stroke-width="0.28" stroke-linejoin="round">O</text> <text transform="translate(262.71 22.90) scale(0.8701 1)" font-size="17.70" font-weight="400" fill="#131722" stroke="#131722" stroke-width="0.29" stroke-linejoin="round">-</text> <text transform="translate(275.12 22.90) scale(0.9541 1)" font-size="17.70" font-weight="400" fill="#131722" stroke="#131722" stroke-width="0.26" stroke-linejoin="round">Aper.</text> <text transform="translate(316.00 22.90) scale(0.9841 1)" font-size="17.70" font-weight="400" fill="#ef5350" stroke="#ef5350" stroke-width="0.25" stroke-linejoin="round">3.83</text> <text transform="translate(361.30 22.90) scale(0.9367 1)" font-size="17.70" font-weight="400" fill="#131722" stroke="#131722" stroke-width="0.27" stroke-linejoin="round">H</text> <text transform="translate(379.54 22.90) scale(0.8249 1)" font-size="17.70" font-weight="400" fill="#131722" stroke="#131722" stroke-width="0.30" stroke-linejoin="round">-</text> <text transform="translate(389.74 22.90) scale(0.9764 1)" font-size="17.70" font-weight="400" fill="#131722" stroke="#131722" stroke-width="0.26" stroke-linejoin="round">Max.</text> <text transform="translate(429.10 22.90) scale(0.9939 1)" font-size="17.70" font-weight="400" fill="#ef5350" stroke="#ef5350" stroke-width="0.25" stroke-linejoin="round">3.84</text> <text transform="translate(473.90 22.90) scale(0.9353 1)" font-size="17.70" font-weight="400" fill="#131722" stroke="#131722" stroke-width="0.27" stroke-linejoin="round">L</text> <text transform="translate(489.72 22.90) scale(0.8475 1)" font-size="17.70" font-weight="400" fill="#131722" stroke="#131722" stroke-width="0.29" stroke-linejoin="round">-</text> <text transform="translate(499.88 22.90) scale(1.0191 1)" font-size="17.70" font-weight="400" fill="#131722" stroke="#131722" stroke-width="0.25" stroke-linejoin="round">Min.</text> <text transform="translate(535.71 22.90) scale(0.9751 1)" font-size="17.70" font-weight="400" fill="#ef5350" stroke="#ef5350" stroke-width="0.26" stroke-linejoin="round">3.66</text> <text transform="translate(581.11 22.90) scale(0.8077 1)" font-size="17.70" font-weight="400" fill="#131722" stroke="#131722" stroke-width="0.31" stroke-linejoin="round">C</text> <text transform="translate(598.24 22.90) scale(0.8249 1)" font-size="17.70" font-weight="400" fill="#131722" stroke="#131722" stroke-width="0.30" stroke-linejoin="round">-</text> <text transform="translate(608.66 22.90) scale(0.9753 1)" font-size="17.70" font-weight="400" fill="#131722" stroke="#131722" stroke-width="0.26" stroke-linejoin="round">Chius.</text> <text transform="translate(659.40 22.90) scale(0.9849 1)" font-size="17.70" font-weight="400" fill="#ef5350" stroke="#ef5350" stroke-width="0.25" stroke-linejoin="round">3.74</text> <text transform="translate(704.43 22.90) scale(0.9819 1)" font-size="17.70" font-weight="400" fill="#ef5350" stroke="#ef5350" stroke-width="0.25" stroke-linejoin="round">−0.06</text> <text transform="translate(755.44 22.90) scale(0.9280 1)" font-size="17.70" font-weight="400" fill="#ef5350" stroke="#ef5350" stroke-width="0.27" stroke-linejoin="round">(−1.58%)</text> <text transform="translate(27.73 48.90) scale(0.9679 1)" font-size="17.70" font-weight="400" fill="#131722" stroke="#131722" stroke-width="0.26" stroke-linejoin="round">Vol</text> <text transform="translate(62.06 48.90) scale(0.9780 1)" font-size="17.70" font-weight="400" fill="#ef5350" stroke="#ef5350" stroke-width="0.26" stroke-linejoin="round">23.8K</text></g>
<g transform="translate(15.1 799.8) scale(0.822)" fill="#131722"><path d="M14 22H7V11H0V4h14v18zM28 22h-8l7.5-18h8L28 22z"/><circle cx="20" cy="8" r="4"/></g>
<text transform="translate(49.67 818.70) scale(0.9589 1)" font-size="20.00" font-weight="400" fill="#131722" stroke="#131722" stroke-width="0.10" stroke-linejoin="round">TradingView</text>
</svg></body></html>
